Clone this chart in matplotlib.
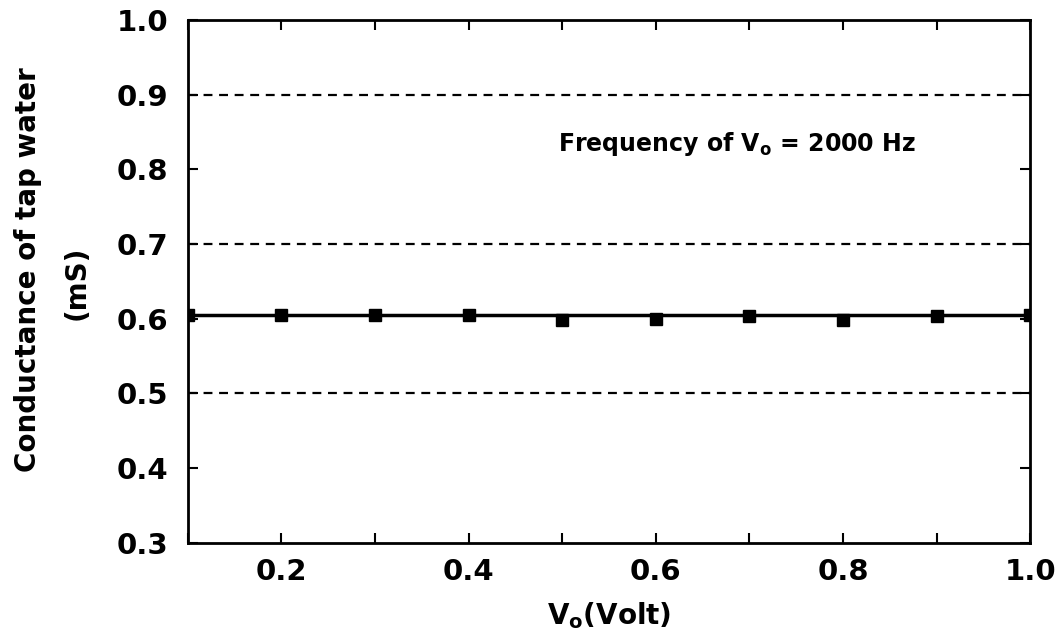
import numpy as np
import matplotlib
matplotlib.use("Agg")
import matplotlib.pyplot as plt

# data
volt = [0.1, 0.2, 0.3, 0.4, 0.5, 0.6, 0.7, 0.8, 0.9, 1.0]
conductance = [0.605, 0.605, 0.605, 0.605, 0.598, 0.600, 0.604, 0.599, 0.604, 0.605]
fit_level = 0.605
dashed_levels = [0.9, 0.7, 0.5]

plt.rcParams['font.family'] = ['DejaVu Sans']
plt.rcParams['font.weight'] = 'bold'
plt.rcParams['mathtext.default'] = 'bf'

fig = plt.figure(figsize=(10.61, 6.41), dpi=100)
ax = fig.add_axes([0.177, 0.153, 0.794, 0.816])

ax.plot([0.1, 1.0], [fit_level, fit_level], color='black', lw=2.5)
ax.plot(volt, conductance, 's', color='black', ms=8)
for lv in dashed_levels:
    ax.plot([0.1, 1.0], [lv, lv], color='black', lw=1.6, ls=(0, (4, 3)))

ax.set_xlim(0.1, 1.0)
ax.set_ylim(0.3, 1.0)
ax.set_xticks([0.2, 0.4, 0.6, 0.8, 1.0])
ax.set_xticks(np.arange(0.1, 1.01, 0.1), minor=True)
ax.set_yticks(np.arange(0.3, 1.01, 0.1))
ax.set_xticklabels(['0.2', '0.4', '0.6', '0.8', '1.0'])
ax.set_yticklabels(['0.3', '0.4', '0.5', '0.6', '0.7', '0.8', '0.9', '1.0'])
ax.tick_params(which='both', direction='in', top=True, right=True, width=1.5)
ax.tick_params(which='major', length=7, labelsize=21)
ax.tick_params(which='minor', length=7)
ax.tick_params(axis='y', pad=14)
ax.tick_params(axis='x', pad=11)
for s in ax.spines.values():
    s.set_linewidth(2)

ax.set_xlabel('$V_o$(Volt)', fontsize=20, fontweight='bold', labelpad=10)
fig.text(0.026, 0.580, 'Conductance of tap water', rotation=90, fontsize=20,
         fontweight='bold', ha='center', va='center')
fig.text(0.072, 0.5585, '(mS)', rotation=90, fontsize=20,
         fontweight='bold', ha='center', va='center')
ax.text(0.4955, 0.8246, 'Frequency of $V_o$ = 2000 Hz', fontsize=17,
        fontweight='bold', va='baseline')

fig.savefig('out.png', dpi=100)
